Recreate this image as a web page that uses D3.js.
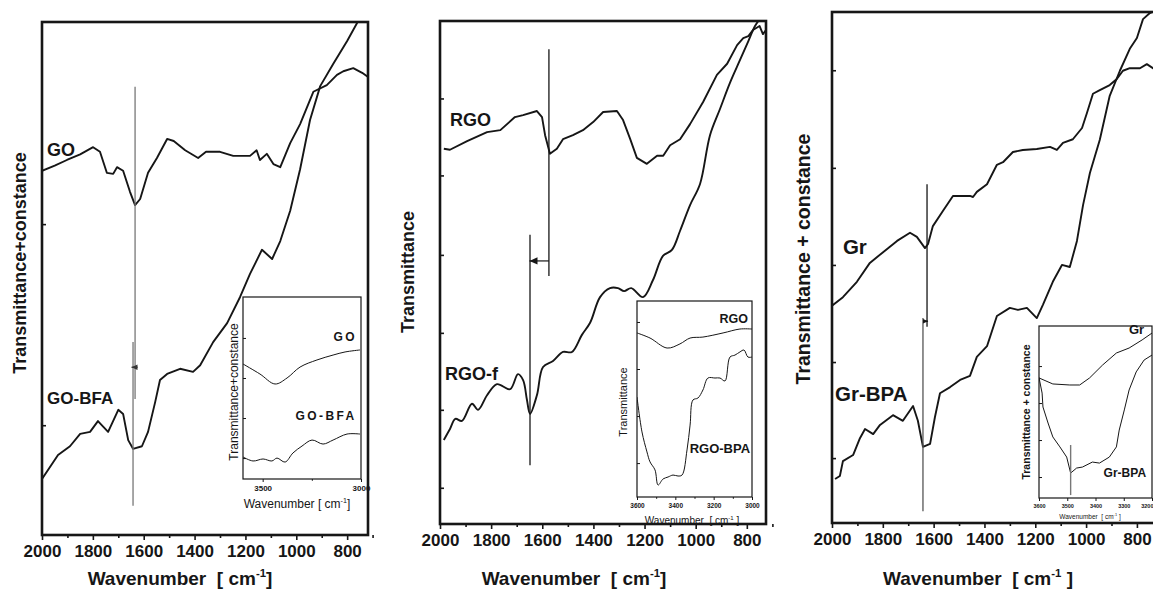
<!DOCTYPE html>
<html>
<head>
<meta charset="utf-8">
<script src="https://cdn.jsdelivr.net/npm/d3@7"></script>
<style>
  body { margin: 0; background: #fff; }
  svg { display: block; }
</style>
</head>
<body>
<div id="chart"></div>
<script>
// ---- spectra: [wavenumber cm-1, transmittance (a.u., 0..100 of frame)] ----
const goSpec = [[2000,71.0],[1950,72.0],[1902,73.1],[1850,74.2],[1799,75.6],[1772,74.7],[1745,70.6],[1720,70.4],[1705,71.7],[1681,71.0],[1654,66.9],[1634,64.3],[1614,65.5],[1583,70.6],[1548,73.5],[1508,77.2],[1482,76.8],[1437,75.0],[1386,73.5],[1355,74.7],[1300,74.7],[1248,73.9],[1182,73.9],[1156,75.0],[1143,73.1],[1116,74.3],[1090,72.3],[1063,71.7],[1024,76.4],[985,80.1],[933,86.4],[880,87.7],[840,89.7],[815,90.4],[776,91.0],[741,90.1],[718,89.3]];
const goBfaSpec = [[2000,10.9],[1937,15.6],[1890,17.3],[1850,19.7],[1811,20.1],[1780,22.2],[1740,20.1],[1700,24.4],[1681,23.6],[1661,18.5],[1642,16.8],[1607,17.3],[1583,20.1],[1555,25.9],[1536,30.2],[1508,31.4],[1457,32.4],[1406,31.8],[1378,33.1],[1327,37.6],[1272,41.3],[1221,46.4],[1182,50.9],[1135,55.6],[1095,53.8],[1063,57.3],[1024,63.2],[985,71.3],[946,80.9],[906,87.5],[855,91.8],[800,96.3],[761,99.8],[741,101.4],[718,102.7]];
const rgoSpec = [[1985,74.6],[1961,74.4],[1894,76.1],[1816,77.9],[1764,78.3],[1707,80.9],[1675,81.3],[1621,82.1],[1601,80.9],[1589,77.3],[1570,73.6],[1543,74.6],[1519,76.5],[1480,77.3],[1441,78.3],[1401,79.9],[1362,81.9],[1308,82.1],[1284,80.3],[1256,76.5],[1230,72.8],[1191,71.6],[1151,73.2],[1127,73.2],[1100,75.3],[1061,76.5],[1022,79.5],[971,83.9],[917,89.3],[877,91.5],[838,95.2],[814,96.6],[794,97.0],[776,98.2],[750,99.0],[737,97.4],[725,98.2]];
const rgoFSpec = [[1985,16.7],[1961,18.9],[1940,20.9],[1914,20.5],[1875,23.9],[1851,22.7],[1816,25.6],[1777,27.8],[1726,26.8],[1695,29.8],[1675,28.6],[1660,24.7],[1648,21.9],[1621,25.6],[1597,31.2],[1558,32.4],[1519,34.2],[1484,34.2],[1445,37.6],[1413,40.0],[1374,45.1],[1335,46.9],[1304,46.9],[1280,46.3],[1252,46.9],[1206,45.1],[1167,48.5],[1128,53.3],[1093,54.5],[1061,58.3],[1022,63.4],[983,67.6],[944,77.3],[905,82.5],[866,87.7],[827,92.2],[794,96.0],[768,99.0],[740,101.0]];
const grSpec = [[2000,42.5],[1957,44.2],[1902,47.2],[1851,50.9],[1799,53.0],[1744,55.2],[1693,56.8],[1666,56.0],[1634,53.8],[1622,54.6],[1603,58.1],[1563,61.1],[1524,64.0],[1457,64.0],[1445,63.8],[1430,64.8],[1390,66.3],[1351,70.1],[1327,70.6],[1288,72.6],[1249,73.0],[1194,73.2],[1142,73.6],[1115,73.0],[1091,74.4],[1052,75.1],[1016,77.3],[997,80.2],[973,84.0],[946,84.7],[907,85.7],[879,86.9],[855,88.5],[828,89.0],[788,89.0],[761,89.8],[737,89.0],[717,89.4]];
const grBpaSpec = [[1988,8.6],[1969,9.2],[1957,12.1],[1917,13.3],[1890,16.6],[1870,18.4],[1838,17.4],[1811,19.2],[1760,21.1],[1721,20.0],[1681,22.9],[1662,20.0],[1642,14.9],[1614,15.5],[1595,20.7],[1575,25.4],[1535,26.6],[1496,28.0],[1457,28.8],[1430,32.5],[1390,34.6],[1351,40.5],[1300,42.1],[1268,41.7],[1233,42.1],[1194,40.1],[1170,42.7],[1131,47.2],[1095,50.5],[1064,50.1],[1036,55.2],[1012,62.2],[985,68.5],[946,75.0],[907,83.6],[867,88.5],[828,92.8],[800,94.9],[776,98.6],[749,99.8],[717,100.4]];

// ---- inset spectra (O-H region) ----
const goInset = [[3600,63.2],[3514,57.7],[3437,52.2],[3376,55.5],[3310,61.5],[3224,65.4],[3142,68.1],[3081,69.8],[3005,70.9]];
const goBfaInset = [[3600,12.1],[3549,9.9],[3498,11.0],[3453,9.9],[3427,11.5],[3386,9.3],[3346,14.3],[3300,18.1],[3249,21.4],[3193,19.2],[3142,21.4],[3071,24.7],[3005,24.7]];
const rgoInset = [[3600,83.7],[3532,81.1],[3443,76.0],[3376,78.1],[3323,81.1],[3256,81.6],[3151,83.7],[3063,85.7],[3000,85.7]];
const rgoBpaInset = [[3600,51.0],[3574,33.2],[3548,23.0],[3532,17.9],[3506,13.8],[3490,6.1],[3464,9.2],[3438,10.2],[3412,11.2],[3386,10.7],[3365,11.2],[3339,24.0],[3323,36.7],[3308,49.5],[3282,50.5],[3256,54.6],[3230,60.7],[3193,60.7],[3167,60.7],[3141,59.2],[3115,71.4],[3089,72.4],[3063,74.0],[3042,75.0],[3021,71.4],[3000,71.4]];
const grInset = [[3600,69.8],[3551,66.3],[3491,65.7],[3456,65.7],[3421,69.8],[3375,77.3],[3326,84.3],[3281,87.2],[3235,91.9],[3200,95.9]];
const grBpaInset = [[3600,70.0],[3589,61.0],[3586,52.9],[3568,43.6],[3551,35.5],[3526,29.7],[3502,23.8],[3488,14.5],[3467,17.4],[3446,18.0],[3411,20.9],[3386,20.3],[3351,23.8],[3326,29.7],[3316,39.5],[3298,51.2],[3281,62.8],[3256,73.3],[3228,80.2],[3200,83.1]];

// ---- ticks ----
const mainTicks = [2000, 1800, 1600, 1400, 1200, 1000, 800];
const mainMinor = [1900, 1700, 1500, 1300, 1100, 900, 700];
const yTicks1 = [21.4, 60.6];
const yTicks2 = [7.2, 22.7, 38.0, 53.5, 69.3, 84.6];
const yTicks3 = [12.7, 31.5, 50.5, 69.5, 88.6];

const W = 1153, H = 589;
const SANS = "'Liberation Sans', Arial, sans-serif";
const NARROW = "'Liberation Sans Narrow', 'Arial Narrow', 'Liberation Sans', sans-serif";
const INK = "#161616";

const svg = d3.select("#chart").append("svg")
  .attr("width", W).attr("height", H)
  .style("background", "#fff");

function wavTitle(g, x, y, size, pre, post, family, weight) {
  const t = g.append("text")
    .attr("x", x).attr("y", y)
    .attr("text-anchor", "middle")
    .attr("fill", INK)
    .style("font-family", family).style("font-weight", weight)
    .style("font-size", size + "px")
    .style("white-space", "pre");
  t.append("tspan").text(pre);
  t.append("tspan").attr("dy", -size * 0.42).style("font-size", (size * 0.6) + "px").text("-1");
  t.append("tspan").attr("dy", size * 0.42).text(post);
}

function yTitle(g, x, y, size, text, family, weight) {
  g.append("text")
    .attr("transform", `translate(${x},${y}) rotate(-90)`)
    .attr("text-anchor", "middle")
    .attr("dominant-baseline", "central")
    .attr("fill", INK)
    .style("font-family", family).style("font-weight", weight)
    .style("font-size", size + "px")
    .text(text);
}

function drawBox(cfg) {
  const g = svg.append("g");
  const x = d3.scaleLinear().domain(cfg.xDomain).range([cfg.left, cfg.right]);
  const y = d3.scaleLinear().domain([0, 100]).range([cfg.bottom, cfg.top]);

  if (cfg.fill) {
    g.append("rect").attr("x", cfg.left).attr("y", cfg.top)
      .attr("width", cfg.right - cfg.left).attr("height", cfg.bottom - cfg.top)
      .attr("fill", "#fff");
  }
  g.append("clipPath").attr("id", cfg.id).append("rect")
    .attr("x", cfg.left).attr("y", cfg.top)
    .attr("width", cfg.right - cfg.left).attr("height", cfg.bottom - cfg.top);

  // left ticks, pointing inward, no labels
  const ya = g.append("g").attr("transform", `translate(${cfg.left},0)`)
    .call(d3.axisLeft(y).tickValues(cfg.yTicks).tickSize(-cfg.yTickLen).tickFormat(""));
  ya.select(".domain").remove();
  ya.selectAll("line").attr("stroke", INK).attr("stroke-width", cfg.tickWidth);

  // bottom ticks + labels
  const xa = g.append("g").attr("transform", `translate(0,${cfg.bottom})`)
    .call(d3.axisBottom(x).tickValues(cfg.xTicks).tickSize(cfg.xTickLen).tickPadding(cfg.tickPad).tickFormat(d3.format("d")));
  xa.select(".domain").remove();
  xa.selectAll("line").attr("stroke", INK).attr("stroke-width", cfg.tickWidth);
  xa.selectAll("text").attr("fill", INK)
    .style("font-family", cfg.tickFamily).style("font-weight", "bold")
    .style("font-size", cfg.tickSize + "px");
  if (cfg.lastLabelEnd) {
    // last label sits on the picture edge: keep it whole
    const last = cfg.xTicks[cfg.xTicks.length - 1];
    xa.selectAll("text").filter(d => d === last).attr("text-anchor", "end").attr("dx", 1);
  }

  if (cfg.xMinor) {
    const xm = g.append("g").attr("transform", `translate(0,${cfg.bottom})`)
      .call(d3.axisBottom(x).tickValues(cfg.xMinor).tickSize(cfg.xTickLen * 0.6).tickFormat(""));
    xm.select(".domain").remove();
    xm.selectAll("line").attr("stroke", INK).attr("stroke-width", cfg.tickWidth);
  }

  cfg.series.forEach(s => {
    g.append("path").datum(s.data)
      .attr("clip-path", `url(#${cfg.id})`)
      .attr("fill", "none").attr("stroke", INK)
      .attr("stroke-width", cfg.lineWidth)
      .attr("stroke-linejoin", "round")
      .attr("d", d3.line().x(d => x(d[0])).y(d => y(d[1])).curve(s.curve || d3.curveLinear));
  });

  (cfg.markers || []).forEach(m => {
    g.append("line")
      .attr("x1", x(m.wn)).attr("x2", x(m.wn))
      .attr("y1", y(m.v0)).attr("y2", y(m.v1))
      .attr("stroke", m.color).attr("stroke-width", m.width || 1.3);
  });

  (cfg.arrows || []).forEach(a => {
    const x0 = x(a.from), x1 = x(a.to), yy = y(a.v);
    const dir = x1 > x0 ? 1 : -1;
    g.append("line").attr("x1", x0).attr("x2", x1).attr("y1", yy).attr("y2", yy)
      .attr("stroke", a.color).attr("stroke-width", 1.2);
    g.append("path")
      .attr("d", `M${x1},${yy}L${x1 - dir * a.head},${yy - a.head * 0.45}L${x1 - dir * a.head},${yy + a.head * 0.45}Z`)
      .attr("fill", a.color);
  });

  (cfg.labels || []).forEach(l => {
    g.append("text")
      .attr("x", x(l.wn)).attr("y", y(l.v))
      .attr("text-anchor", l.anchor || "start")
      .attr("dominant-baseline", "central")
      .attr("fill", INK)
      .style("font-family", l.family || SANS).style("font-weight", "bold")
      .style("font-size", l.size + "px")
      .style("letter-spacing", (l.spacing || 0) + "px")
      .text(l.text);
  });

  g.append("rect")
    .attr("x", cfg.left).attr("y", cfg.top)
    .attr("width", cfg.right - cfg.left).attr("height", cfg.bottom - cfg.top)
    .attr("fill", "none").attr("stroke", INK).attr("stroke-width", cfg.frameWidth);

  return g;
}

const smooth = d3.curveCatmullRom.alpha(0.5);

// ---------------- panel 1: GO / GO-BFA ----------------
const p1 = drawBox({
  id: "c1", left: 42, top: 22, right: 368, bottom: 535, xDomain: [2000, 718],
  xTicks: mainTicks, xMinor: mainMinor, yTicks: yTicks1,
  xTickLen: 5, yTickLen: 4, tickPad: 5, tickWidth: 1.6, tickSize: 17, tickFamily: SANS,
  frameWidth: 2.6, lineWidth: 1.9,
  series: [{ data: goSpec }, { data: goBfaSpec }],
  markers: [{ wn: 1634, v0: 87.4, v1: 26.5, color: "#777" }, { wn: 1642, v0: 37.6, v1: 5.7, color: "#777" }],
  arrows: [{ from: 1624, to: 1648, v: 32.7, head: 6, color: "#333" }],
  labels: [{ text: "GO", wn: 1980, v: 75.0, size: 18 }, { text: "GO-BFA", wn: 1980, v: 26.7, size: 17 }]
});
yTitle(p1, 20, 263, 18, "Transmittance+constance", SANS, "bold");
wavTitle(p1, 180, 585, 19, "Wavenumber  [ cm", "]", SANS, "bold");

const i1 = drawBox({
  id: "ci1", fill: true, left: 243, top: 297, right: 361, bottom: 479, xDomain: [3600, 3000],
  xTicks: [3500, 3000], xMinor: [3250], yTicks: [11.5, 33.5, 55.5, 77.5],
  xTickLen: 3, yTickLen: 3, tickPad: 3, tickWidth: 1, tickSize: 8, tickFamily: NARROW,
  frameWidth: 1.2, lineWidth: 1,
  series: [{ data: goInset, curve: smooth }, { data: goBfaInset, curve: smooth }],
  labels: [{ text: "GO", wn: 3020, v: 78, size: 12, anchor: "end", family: NARROW, spacing: 2.4 },
           { text: "GO-BFA", wn: 3022, v: 34.6, size: 12, anchor: "end", family: NARROW, spacing: 2.4 }]
});
yTitle(i1, 234, 392, 12, "Transmittance+constance", NARROW, "normal");
wavTitle(i1, 297, 508, 12, "Wavenumber [ cm", "]", NARROW, "normal");

// ---------------- panel 2: RGO / RGO-f ----------------
const p2 = drawBox({
  id: "c2", left: 440, top: 21, right: 766, bottom: 524, xDomain: [2000, 725],
  xTicks: mainTicks, xMinor: mainMinor, yTicks: yTicks2,
  xTickLen: 5, yTickLen: 4, tickPad: 5, tickWidth: 1.6, tickSize: 17, tickFamily: SANS,
  frameWidth: 2.6, lineWidth: 1.9,
  series: [{ data: rgoSpec }, { data: rgoFSpec, curve: smooth }],
  markers: [{ wn: 1574, v0: 94.4, v1: 49.3, color: INK }, { wn: 1648, v0: 57.5, v1: 11.7, color: INK }],
  arrows: [{ from: 1574, to: 1650, v: 52.3, head: 8, color: INK }],
  labels: [{ text: "RGO", wn: 1961, v: 80.3, size: 18 }, { text: "RGO-f", wn: 1980, v: 29.8, size: 18 }]
});
yTitle(p2, 408, 272, 18, "Transmittance", SANS, "bold");
wavTitle(p2, 574, 585, 19, "Wavenumber  [ cm", "]", SANS, "bold");

const i2 = drawBox({
  id: "ci2", fill: true, left: 637, top: 301, right: 752, bottom: 497, xDomain: [3600, 3000],
  xTicks: [3600, 3400, 3200, 3000], xMinor: [3500, 3300, 3100], yTicks: [17.3, 41.3, 65.3, 89.3],
  xTickLen: 3, yTickLen: 3, tickPad: 3, tickWidth: 1, tickSize: 6.5, tickFamily: SANS,
  frameWidth: 1.2, lineWidth: 1,
  series: [{ data: rgoInset, curve: smooth }, { data: rgoBpaInset, curve: smooth }],
  labels: [{ text: "RGO", wn: 3021, v: 90.8, size: 12.5, anchor: "end" },
           { text: "RGO-BPA", wn: 3010, v: 25.0, size: 13, anchor: "end" }]
});
yTitle(i2, 623, 402, 11, "Transmittance", SANS, "normal");
wavTitle(i2, 692, 524, 10, "Wavenumber  [ cm", " ]", SANS, "normal");

// ---------------- panel 3: Gr / Gr-BPA ----------------
const p3 = drawBox({
  id: "c3", left: 832, top: 12, right: 1158, bottom: 523, xDomain: [2000, 717],
  xTicks: mainTicks, xMinor: mainMinor, yTicks: yTicks3,
  xTickLen: 5, yTickLen: 4, tickPad: 5, tickWidth: 1.6, tickSize: 17, tickFamily: SANS,
  frameWidth: 2.6, lineWidth: 1.9,
  series: [{ data: grSpec }, { data: grBpaSpec }],
  markers: [{ wn: 1626, v0: 66.3, v1: 38.4, color: INK }, { wn: 1642, v0: 40.1, v1: 2.3, color: "#555" }],
  arrows: [{ from: 1642, to: 1622, v: 39.5, head: 5, color: INK }],
  labels: [{ text: "Gr", wn: 1957, v: 54.2, size: 20.5 }, { text: "Gr-BPA", wn: 1988, v: 25.4, size: 20.5 }]
});
yTitle(p3, 803, 259, 19.5, "Transmittance + constance", SANS, "bold");
wavTitle(p3, 978, 585, 19, "Wavenumber  [ cm", " ]", SANS, "bold");

const i3 = drawBox({
  id: "ci3", fill: true, left: 1039, top: 326, right: 1152, bottom: 498, xDomain: [3600, 3200],
  xTicks: [3600, 3500, 3400, 3300, 3200], yTicks: [12.2, 33.7, 55.2, 76.7], lastLabelEnd: true,
  xTickLen: 3, yTickLen: 3, tickPad: 3, tickWidth: 1, tickSize: 5.5, tickFamily: SANS,
  frameWidth: 1.2, lineWidth: 1,
  series: [{ data: grInset }, { data: grBpaInset }],
  markers: [{ wn: 3488, v0: 30.8, v1: 1.7, color: "#777", width: 1.4 }],
  labels: [{ text: "Gr", wn: 3228, v: 97.7, size: 13, anchor: "end" },
           { text: "Gr-BPA", wn: 3221, v: 14.5, size: 12, anchor: "end" }]
});
yTitle(i3, 1026, 412, 10.5, "Transmittance + constance", SANS, "bold");
wavTitle(i3, 1090, 519, 6.5, "Wavenumber  [ cm", " ]", SANS, "normal");
</script>
</body>
</html>
